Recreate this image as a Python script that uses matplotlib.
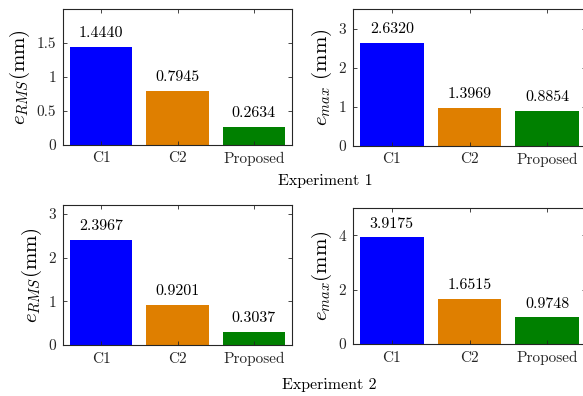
import matplotlib
matplotlib.use('Agg')
import matplotlib.pyplot as plt
import numpy as np

plt.rcParams['font.family'] = 'serif'
plt.rcParams['font.serif'] = ['cmr10']
plt.rcParams['mathtext.fontset'] = 'cm'
plt.rcParams['axes.formatter.use_mathtext'] = True

# data
methods = ['C1', 'C2', 'Proposed']
colors = ['#0000FF', '#DF7F00', '#008000']

exp1_rms = [1.4440, 0.7945, 0.2634]
exp1_rms_txt = ['1.4440', '0.7945', '0.2634']
exp1_max = [2.6320, 0.975, 0.8854]          # C2 bar drawn lower than its label
exp1_max_txt = ['2.6320', '1.3969', '0.8854']
exp2_rms = [2.3967, 0.9201, 0.3037]
exp2_rms_txt = ['2.3967', '0.9201', '0.3037']
exp2_max = [3.9175, 1.6515, 0.9748]
exp2_max_txt = ['3.9175', '1.6515', '0.9748']

W, H = 583, 396
fig = plt.figure(figsize=(W/100, H/100), dpi=100)

def px_axes(l, r, t, b):
    return fig.add_axes([l/W, 1-b/H, (r-l)/W, (b-t)/H])

panels = [
    (px_axes(63, 292, 9, 144.7), exp1_rms, exp1_rms_txt, 2.0, [0, 0.5, 1, 1.5], r'$e_{RMS}$(mm)'),
    (px_axes(353, 586, 9, 145.7), exp1_max, exp1_max_txt, 3.5, [0, 1, 2, 3], r'$e_{max}$ (mm)'),
    (px_axes(63, 292, 205, 345), exp2_rms, exp2_rms_txt, 3.2, [0, 1, 2, 3], r'$e_{RMS}$(mm)'),
    (px_axes(353, 586, 208, 344), exp2_max, exp2_max_txt, 5.0, [0, 2, 4], r'$e_{max}$(mm)'),
]

x = np.arange(1, 4)
for ax, vals, txts, ymax, yt, ylab in panels:
    ax.bar(x, vals, width=0.82, color=colors, edgecolor='none')
    for xi, v, t in zip(x, vals, txts):
        ax.annotate(t, (xi, v), xytext=(0, 7), textcoords='offset points',
                    ha='center', va='baseline', fontsize=11.5)
    ax.set_xlim(0.5, 3.5)
    ax.set_ylim(0, ymax)
    ax.set_xticks(x)
    ax.set_xticklabels(methods)
    ax.set_yticks(yt)
    ax.set_yticklabels([('%g' % v) for v in yt])
    ax.set_ylabel(ylab, fontsize=15, labelpad=3)
    ax.tick_params(direction='in', top=True, right=True, length=3,
                   width=0.6, colors='#262626', labelsize=11, pad=5)
    for s in ax.spines.values():
        s.set_color('#262626')
        s.set_linewidth(0.8)

fig.text(325/W, 1-185/H, 'Experiment 1', ha='center', va='baseline', fontsize=11.5)
fig.text(329/W, 1-389/H, 'Experiment 2', ha='center', va='baseline', fontsize=11.5)

plt.savefig('out.png', dpi=100)
